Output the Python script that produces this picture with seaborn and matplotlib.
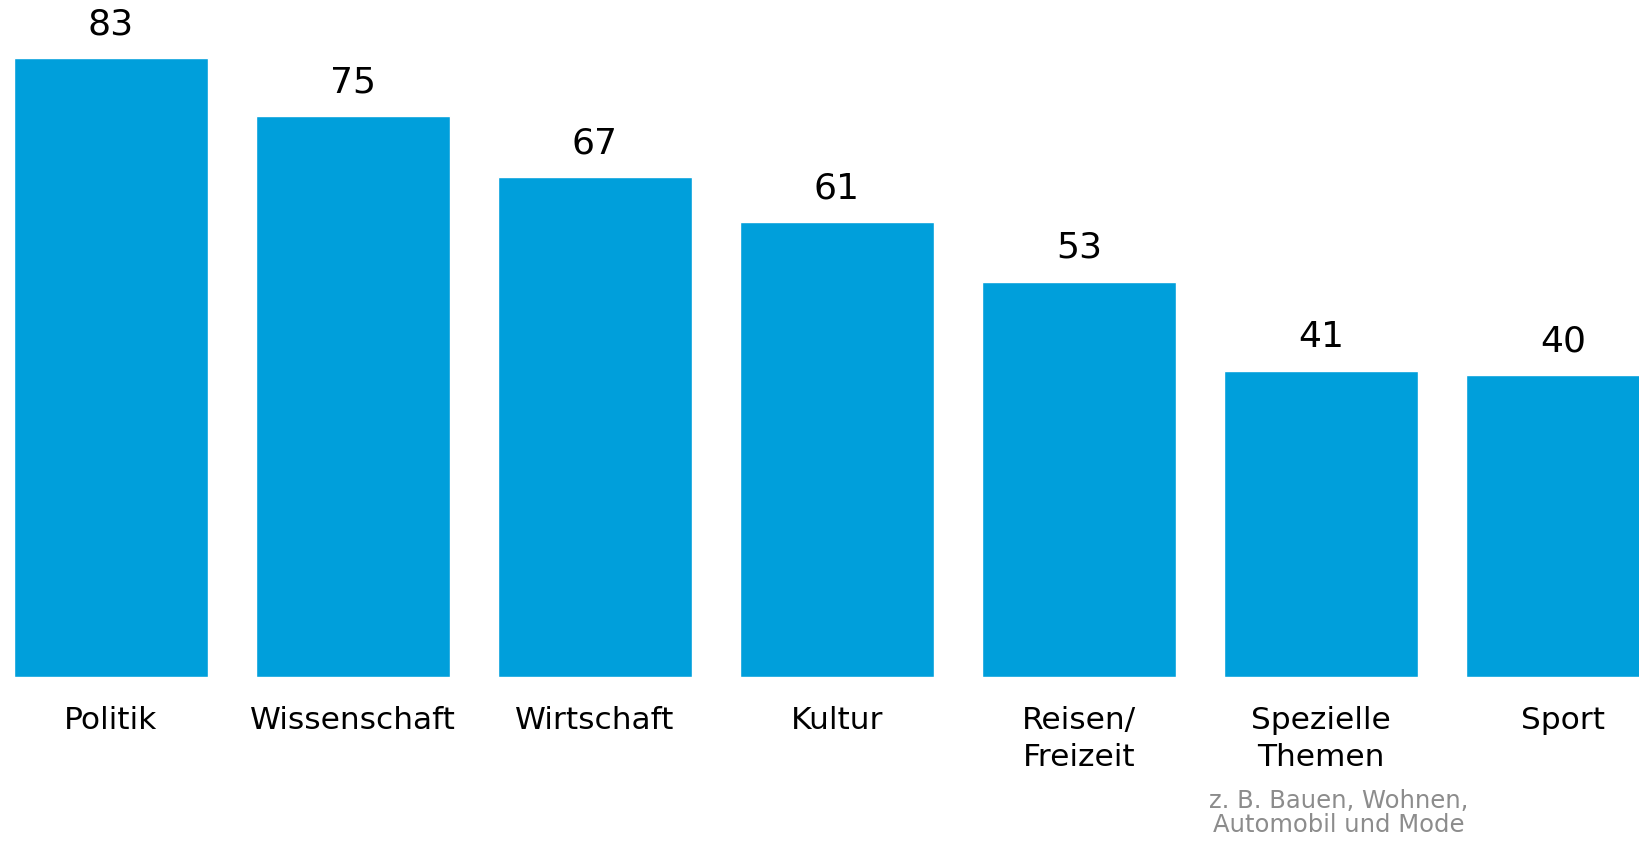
import matplotlib
matplotlib.use("Agg")
from matplotlib import pyplot as plt
import seaborn as sns
import pandas as pd

categories = ["Politik", "Wissenschaft", "Wirtschaft", "Kultur", "Reisen/\nFreizeit", "Spezielle\nThemen", "Sport"]
values = [83, 75.2, 67, 61, 53, 41, 40.5]
note = "z. B. Bauen, Wohnen,\nAutomobil und Mode"
note_idx = 5

bar_color = "#009fdb"

sns.set_theme(style="white")
plt.rcParams["font.family"] = ["DejaVu Sans"]

df = pd.DataFrame({"thema": categories, "wert": values})

fig = plt.figure(figsize=(16.4, 8.43), dpi=100)
ax = fig.add_axes([0, 0.1973, 1, 0.8027])

sns.barplot(data=df, x="thema", y="wert", color=bar_color, saturation=1, width=0.8, ax=ax)

ax.bar_label(ax.containers[0], fmt="%.0f", padding=12, fontsize=26, color="black")

ax.set_xlim(-0.4576, 6.319)
ax.set_ylim(0, 90.78)
ax.set_xlabel("")
ax.set_ylabel("")
ax.set_yticks([])
ax.tick_params(axis="x", length=0, pad=21, labelsize=22.5, labelcolor="black")
for lbl in ax.get_xticklabels():
    lbl.set_linespacing(1.35)
for s in ax.spines.values():
    s.set_visible(False)

# grey note under "Spezielle Themen"
ax.annotate(note, xy=(note_idx + 0.074, 0), xycoords="data", xytext=(0, -81), textcoords="offset points",
            ha="center", va="top", fontsize=17.5, color="#8c8c8c", linespacing=1.0, annotation_clip=False)

fig.savefig("out.png", dpi=100)
